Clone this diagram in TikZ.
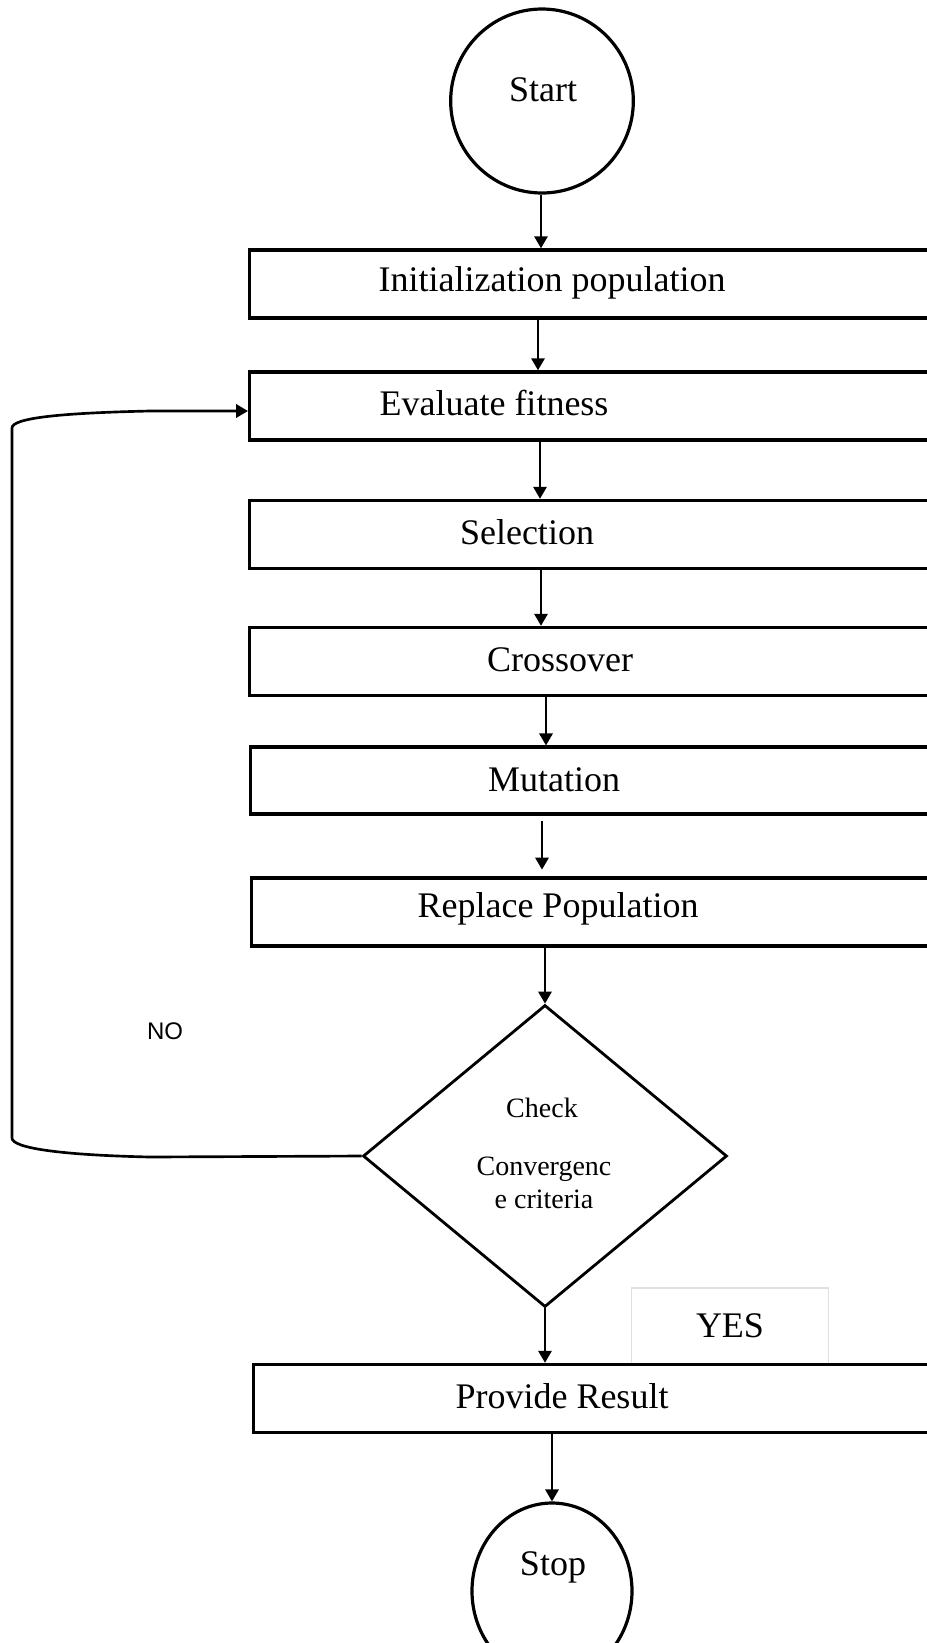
\documentclass[tikz,border=0pt]{standalone}
\usepackage{fontspec}
\setmainfont{Liberation Serif}
\newfontfamily\nofont{Liberation Sans}
\usetikzlibrary{shapes.geometric,arrows.meta}
\tikzset{
  box/.style={draw=black, line width=2.6pt, rectangle, anchor=west, inner sep=0pt,
    minimum width=571.5pt, minimum height=51pt},
  term/.style={draw=black, line width=2.4pt, ellipse, inner sep=0pt},
  lbl/.style={font=\fontsize{27}{32}\selectfont, inner sep=0pt},
  small/.style={font=\fontsize{21}{25}\selectfont, inner sep=0pt},
  arr/.style={line width=1.6pt, -{Triangle[length=9pt,width=10pt]}},
  loopline/.style={line width=2pt},
}
\begin{document}
\begin{tikzpicture}[x=0.75pt,y=-0.75pt]
\useasboundingbox (0,0) rectangle (927,1643);
\clip (0,0) rectangle (927,1643);
\fill[white] (0,0) rectangle (927,1643);

% terminals
\node[term, minimum width=137pt, minimum height=138pt] (start) at (542,101) {};
\node[lbl] (tstart) at (543,90) {Start};

% process boxes
\node[box] (init)  at (248,284) {};
\node[lbl] (tinit) at (552,283) {Initialization population};
\node[box] (eval)  at (248,406) {};
\node[lbl] (teval) at (494,403) {Evaluate fitness};
\node[box] (sel)   at (248,534.5) {};
\node[lbl] (tsel)  at (527,532) {Selection};
\node[box] (cross) at (248,661.5) {};
\node[lbl] (tcross) at (560,660) {Crossover};
\node[box, minimum height=50pt] (mut) at (249,780.5) {};
\node[lbl] (tmut)  at (554,780) {Mutation};
\node[box] (repl)  at (250,912) {};
\node[lbl] (trepl) at (558,909) {Replace Population};

% decision
\node[diamond, draw=black, line width=2.1pt, inner sep=0pt,
      minimum width=273pt, minimum height=226.5pt] (dia) at (545,1156) {};
\node[small] (tcheck) at (542,1108) {Check};
\node[small, align=center, font=\fontsize{21}{24.75}\selectfont] (tconv) at (544,1183) {Convergenc\\e criteria};

% YES label box
\node[draw=black!12, line width=0.8pt, rectangle, inner sep=0pt,
      minimum width=148pt, minimum height=57pt, lbl] (yes) at (730,1326) {YES};

\node[box] (prov)  at (252,1398.5) {};
\node[lbl] (tprov) at (562,1396) {Provide Result};

\node[term, minimum width=120pt, minimum height=132pt] (stop) at (552,1591) {};
\node[lbl] (tstop) at (553,1567) {Stop};

% NO label
\node[font=\nofont\fontsize{18}{22}\selectfont, inner sep=0pt] (no) at (165,1031) {NO};

% connector x positions
\coordinate (a1) at (541,0);
\coordinate (a2) at (538,0);
\coordinate (a3) at (540,0);
\coordinate (a4) at (541,0);
\coordinate (a5) at (546,0);
\coordinate (a6) at (542,0);
\coordinate (a7) at (552,0);

\draw[arr] (start.south -| a1) -- (init.north -| a1);
\draw[arr] (init.south -| a2) -- (eval.north -| a2);
\draw[arr] (eval.south -| a3) -- (sel.north -| a3);
\draw[arr] (sel.south -| a4) -- (cross.north -| a4);
\draw[arr] (cross.south -| a5) -- (mut.north -| a5);
\draw[arr, shorten <=4pt, shorten >=5pt] (mut.south -| a6) -- (repl.north -| a6);
\draw[arr] (repl.south -| dia.north) -- (dia.north);
\draw[arr] (dia.south) -- (prov.north -| dia.south);
\draw[arr] (prov.south -| a7) -- (stop.north -| a7);

% loop back (NO)
\coordinate (lb) at (150,1157);
\coordinate (lt) at (150,411);
\draw[loopline, -{Triangle[length=9pt,width=10pt]}]
  (dia.west) -- (lb)
  .. controls (60,1155) and (12,1148) .. (12,1138)
  -- (12,428)
  .. controls (12,418) and (60,413) .. (lt)
  -- (eval.west |- lt);
\end{tikzpicture}
\end{document}
